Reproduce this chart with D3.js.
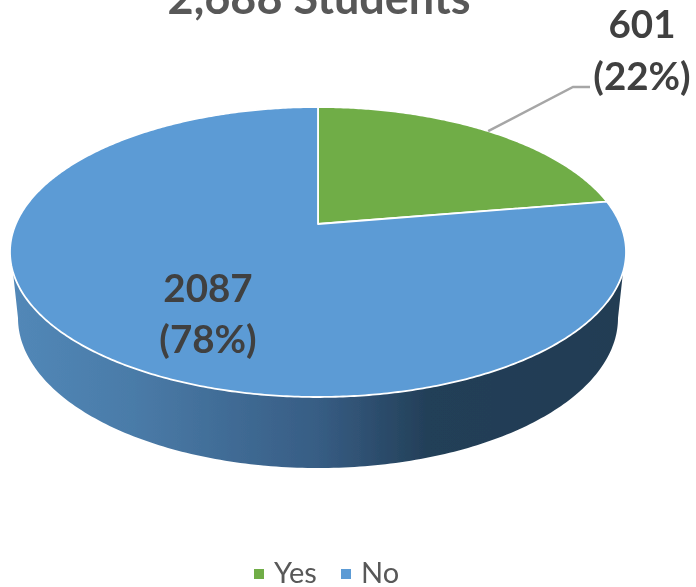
<!DOCTYPE html>
<html>
<head>
<meta charset="utf-8">
<script src="https://cdn.jsdelivr.net/npm/d3@7"></script>
<style>
  html, body { margin: 0; padding: 0; background: #fff; overflow: hidden; }
  svg { display: block; }
  text { font-family: Lato, "Open Sans", sans-serif; }
</style>
</head>
<body>
<div id="chart"></div>
<script>
const WIDTH = 696;
const HEIGHT = 587;

const categories = ['Yes', 'No'];
const counts = [601, 2087];
const percentLabels = ['(22%)', '(78%)'];
const sliceColors = ['#70ad47', '#5b9bd5'];
const titleText = '2,688 Students';

// Side wall shading, left to right
const sideStops = [0, 0.2, 0.5, 0.68, 1];
const sideColors = ['#5288b8', '#4a7ba8', '#375d84', '#233f58', '#223c53'];

// Perspective tilt: the pie centre sits above the middle of the ellipse
const TILT = 0.193;

const x = d3.scaleLinear().domain([-1, 1]).range([10, 626]);
const y = d3.scaleLinear().domain([-1, 1]).range([397, 107]);
const xBottom = d3.scaleLinear().domain([-1, 1]).range([18, 618]);
const yBottom = d3.scaleLinear().domain([-1, 1]).range([468, 168]);

// Angle on the flat disc -> point on the tilted disc
function project(angle, r = 1) {
  const u = r * Math.sin(angle);
  const v = r * Math.cos(angle);
  const d = 1 + TILT * v;
  return [x(u * Math.sqrt(1 - TILT * TILT) / d), y((v + TILT) / d)];
}

const svg = d3.select('#chart').append('svg')
  .attr('width', WIDTH)
  .attr('height', HEIGHT);

const defs = svg.append('defs');
const grad = defs.append('linearGradient')
  .attr('id', 'side-shade')
  .attr('gradientUnits', 'userSpaceOnUse')
  .attr('x1', x(-1)).attr('x2', x(1))
  .attr('y1', 0).attr('y2', 0);
sideStops.forEach((s, i) => {
  grad.append('stop').attr('offset', s).attr('stop-color', sideColors[i]);
});

const blur = defs.append('filter').attr('id', 'soft')
  .attr('x', '-5%').attr('y', '-5%').attr('width', '110%').attr('height', '110%');
blur.append('feGaussianBlur').attr('stdDeviation', 0.6);

const root = svg.append('g').attr('filter', 'url(#soft)');

const line = d3.line();

// Side wall: front half of the top rim, closed along the smaller bottom rim
const topRim = d3.range(98, 262.5, 1).map(d => {
  const a = d * Math.PI / 180;
  return [x(Math.sin(a)), y(Math.cos(a))];
});
const bottomRim = d3.range(180, 360.5, 1).map(d => {
  const a = d * Math.PI / 180;
  return [xBottom(Math.cos(a)), yBottom(Math.sin(a))];
});

root.append('path')
  .attr('d', line([...topRim, ...bottomRim]) + 'Z')
  .attr('fill', 'url(#side-shade)');

// Top slices
const pie = d3.pie().sort(null).value(d => d);
const arcs = pie(counts);

root.append('g')
  .selectAll('path')
  .data(arcs)
  .join('path')
    .attr('d', d => {
      const pts = d3.range(d.startAngle, d.endAngle, 0.01).concat(d.endAngle).map(a => project(a));
      return line([project(0, 0), ...pts]) + 'Z';
    })
    .attr('fill', (d, i) => sliceColors[i])
    .attr('stroke', '#fff')
    .attr('stroke-width', 1.8)
    .attr('stroke-linejoin', 'round');

// Leader line for the small slice
const yesMid = (arcs[0].startAngle + arcs[0].endAngle) / 2;
root.append('path')
  .attr('d', line([project(yesMid), [573, 87], [590, 87]]))
  .attr('fill', 'none')
  .attr('stroke', '#a6a6a6')
  .attr('stroke-width', 2.4);

// Title is clipped by the top of the picture
root.append('text')
  .attr('x', 319)
  .attr('y', 14)
  .attr('text-anchor', 'middle')
  .attr('font-size', 45)
  .attr('font-weight', 700)
  .attr('fill', '#595959')
  .text(titleText);

// Data labels
const labelPos = [[642, 38, 90], [208, 302, 353]];
const labels = root.append('g')
  .selectAll('g')
  .data(counts)
  .join('g')
    .attr('text-anchor', 'middle')
    .attr('font-size', 38.5)
    .attr('font-weight', 700)
    .attr('fill', '#404040');
labels.append('text')
  .attr('x', (d, i) => labelPos[i][0])
  .attr('y', (d, i) => labelPos[i][1])
  .text(d => d);
labels.append('text')
  .attr('x', (d, i) => labelPos[i][0])
  .attr('y', (d, i) => labelPos[i][2])
  .text((d, i) => percentLabels[i]);

// Legend
const legendX = [254, 341];
const legend = root.append('g')
  .selectAll('g')
  .data(categories)
  .join('g')
    .attr('transform', (d, i) => `translate(${legendX[i]},569)`);
legend.append('rect')
  .attr('width', 10)
  .attr('height', 10)
  .attr('fill', (d, i) => sliceColors[i]);
legend.append('text')
  .attr('x', 20)
  .attr('y', 14)
  .attr('font-size', 29)
  .attr('fill', '#595959')
  .text(d => d);
</script>
</body>
</html>
